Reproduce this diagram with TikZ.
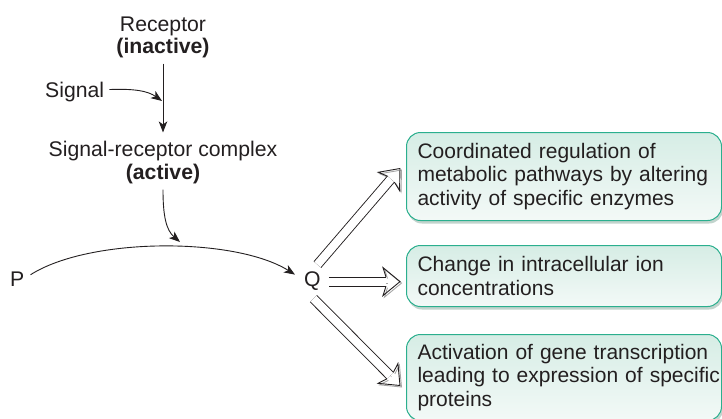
\documentclass[tikz,border=0pt]{standalone}
\usepackage{fontspec}
\setmainfont{Liberation Sans}
\usetikzlibrary{arrows.meta,calc,shadows}
\definecolor{ink}{HTML}{231F20}
\definecolor{boxedge}{HTML}{2BAF8E}
\definecolor{boxtop}{HTML}{D6EDE5}
\definecolor{boxbot}{HTML}{F3F9F7}
\definecolor{boxshadow}{HTML}{C2D4CD}

\pgfdeclarearrow{
  name = Hol,
  setup code = {
    \pgfarrowssettipend{0pt}
    \pgfarrowssetlineend{-14pt}
    \pgfarrowssetvisualbackend{-17pt}
    \pgfarrowssetbackend{-17pt}
    \pgfarrowshullpoint{0pt}{0pt}
    \pgfarrowshullpoint{-17pt}{15pt}
    \pgfarrowshullpoint{-17pt}{-15pt}
  },
  drawing code = {
    \pgfsetlinewidth{0.9pt}
    \pgfsetmiterjoin
    \pgfpathmoveto{\pgfqpoint{-14pt}{4.6pt}}
    \pgfpathlineto{\pgfqpoint{-17pt}{14pt}}
    \pgfpathlineto{\pgfqpoint{0pt}{0pt}}
    \pgfpathlineto{\pgfqpoint{-17pt}{-14pt}}
    \pgfpathlineto{\pgfqpoint{-14pt}{-4.6pt}}
    \pgfusepathqstroke
  }
}

\newcommand{\basefont}{\fontsize{21.2}{23.5}\selectfont}
\newcommand{\boxfont}{\fontsize{21}{23.7}\selectfont}

\begin{document}
\begin{tikzpicture}[x=1pt,y=-1pt, font=\basefont, text=ink,
  lbl/.style={inner sep=0pt},
  boldlbl/.style={inner sep=0pt, font=\basefont\bfseries},
  thinarrow/.style={draw=ink, line width=0.9pt, -{Stealth[length=11pt,width=8.5pt,inset=3pt]}},
  resbox/.style={draw=boxedge, line width=1pt, rounded corners=14pt, font=\boxfont,
    top color=boxtop, bottom color=boxbot, anchor=north west,
    minimum width=315pt, inner xsep=11pt, inner ysep=0pt, text width=293pt, align=left,
    drop shadow={shadow xshift=1.5pt, shadow yshift=-3pt, fill=boxshadow, opacity=1}},
  hollow/.style={draw=ink, line width=0.9pt, double=white, double distance=8.2pt, -Hol,
    preaction={draw=gray!70, transform canvas={shift={(1.5,1.5)}}}}
]
\path[use as bounding box, clip] (0,0) rectangle (722,418);
\fill[white] (0,0) rectangle (722,418);

\node[lbl, anchor=base] (rec) at (163,31) {Receptor};
\node[boldlbl, anchor=base] (inact) at (163,53) {(inactive)};
\node[lbl, anchor=base west] (sig) at (45,97) {Signal};
\node[lbl, anchor=base] (src) at (163,156) {Signal-receptor complex};
\node[boldlbl, anchor=base] (act) at (163,179) {(active)};
\node[lbl, anchor=base west] (P) at (10,286) {P};
\node[lbl, anchor=base west] (Q) at (304,286) {Q};

\node[resbox, minimum height=88pt] (b1) at (406,132)
  {\mbox{Coordinated regulation of}\\\mbox{metabolic pathways by altering}\\\mbox{activity of specific enzymes}};
\node[resbox, minimum height=61pt] (b2) at (406,245)
  {\mbox{Change in intracellular ion}\\\mbox{concentrations}};
\node[resbox, minimum height=86pt] (b3) at (406,334)
  {\mbox{Activation of gene transcription}\\\mbox{leading to expression of specific}\\\mbox{proteins}};

\coordinate (sj) at (162,101);
\coordinate (pq) at (180,242);

\draw[thinarrow, shorten <=6pt, shorten >=8pt] (inact.south) -- (src.north);
\draw[thinarrow] ($(sig.east)+(5,-2)$) .. controls ($(sig.east)+(30,-3)$) and (148,91) .. (sj);
\draw[thinarrow] ($(act.south)+(0,6)$) .. controls ($(act.south)+(0,32)$) and (166,230) .. (pq);
\draw[thinarrow] ($(P.east)+(6,-4)$) .. controls (90,237) and (235,237) .. ($(Q.west)+(-9,-6)$);

\coordinate (q1) at ($(Q.center)+(5,-16)$);
\coordinate (q2) at ($(Q.east)+(8,1)$);
\coordinate (q3) at ($(Q.center)+(1,18)$);
\draw[hollow] (q1) -- ($(b1.west)+(-6,-8)$);
\draw[hollow, shorten >=6pt] (q2) -- (q2 -| b2.west);
\draw[hollow] (q3) -- ($(b3.west)+(-6,8)$);
\end{tikzpicture}
\end{document}
